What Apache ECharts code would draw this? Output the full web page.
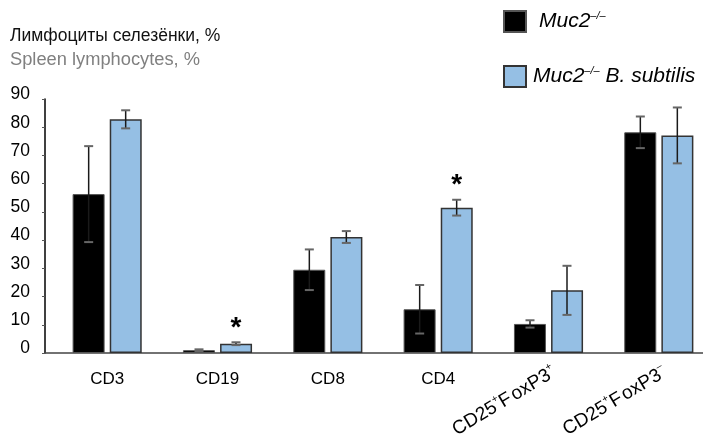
<!DOCTYPE html>
<html><head><meta charset="utf-8">
<script src="https://cdn.jsdelivr.net/npm/echarts@6/dist/echarts.min.js"></script>
<style>html,body{margin:0;padding:0;background:#fff}#c{width:703px;height:437px}</style>
</head><body><div id="c"></div>
<script>
const categories = ['CD3', 'CD19', 'CD8', 'CD4', 'CD25+FoxP3+', 'CD25+FoxP3-'];
const categoryLabels = ['CD3', 'CD19', 'CD8', 'CD4', '{n|CD25}{s|+}{n|F}{g|oxP3}{s|+}', '{n|CD25}{s|+}{n|F}{g|oxP3}{s|–}'];
const seriesNames = ['Muc2-/-', 'Muc2-/- B. subtilis'];
const muc2 = [56.3, 1.0, 29.5, 15.5, 10.3, 78.2];
const muc2Err = [17.0, 0.3, 7.2, 8.6, 1.3, 5.6];
const bsub = [82.8, 3.3, 41.1, 51.5, 22.2, 77.1];
const bsubErr = [3.2, 0.5, 2.1, 2.8, 8.7, 9.9];
const stars = ['', '*', '', '*', '', ''];
const yMin = 0, yMax = 90, yStep = 10;

const errData = [];
categories.forEach((c, i) => {
  errData.push([i, muc2[i], muc2Err[i], 0, '']);
  errData.push([i, bsub[i], bsubErr[i], 1, stars[i]]);
});

const FONT = 'Liberation Sans, Arial, sans-serif';
const chart = echarts.init(document.getElementById('c'));
chart.setOption({
  animation: false,
  textStyle: { fontFamily: FONT },
  title: [
    { text: 'Лимфоциты селезёнки, %', left: 10, top: 27, padding: 0, textStyle: { fontSize: 17.5, fontWeight: 'normal', color: '#111', fontFamily: FONT } },
    { text: 'Spleen lymphocytes, %', left: 10, top: 51, padding: 0, textStyle: { fontSize: 18.3, fontWeight: 'normal', color: '#808080', fontFamily: FONT } }
  ],
  legend: {
    orient: 'vertical', left: 503, top: 10, padding: 0, itemWidth: 22, itemHeight: 21, itemGap: 32,
    icon: 'rect',
    data: [
      { name: seriesNames[0] },
      { name: seriesNames[1] }
    ],
    formatter: function (name) {
      return name === seriesNames[0]
        ? '{sp1|}{n|Muc2}{s|–/–}'
        : '{sp2|}{n|Muc2}{s|–/–}{n| B. subtilis}';
    },
    textStyle: {
      fontFamily: FONT, fontSize: 21, fontStyle: 'italic', color: '#000',
      rich: {
        sp1: { width: 8 },
        sp2: { width: 2 },
        n: { fontSize: 21, fontStyle: 'italic', color: '#000', fontFamily: FONT },
        s: { fontSize: 11, fontStyle: 'italic', color: '#000', fontFamily: FONT, padding: [0, 0, 12, 0] }
      }
    }
  },
  grid: [
    { left: 52, width: 662, top: 99, bottom: 84, outerBoundsMode: 'none', containLabel: false },
    { left: 45, right: 0, top: 99, bottom: 84, outerBoundsMode: 'none', containLabel: false }
  ],
  xAxis: [
    {
      type: 'category', data: categories, gridIndex: 0, position: 'bottom', offset: 0,
      axisLine: { show: false }, axisTick: { show: false },
      axisLabel: {
        interval: 0, margin: 18, fontSize: 17, color: '#000', fontFamily: FONT,
        formatter: function (v, i) { return i < 4 ? categoryLabels[i] : ''; }
      }
    },
    {
      type: 'category', data: categories, gridIndex: 0, position: 'bottom', offset: 0,
      axisLine: { show: false }, axisTick: { show: false },
      axisLabel: {
        interval: 0, margin: 8, rotate: 31, verticalAlign: 'top', fontSize: 19, color: '#000', fontFamily: FONT,
        formatter: function (v, i) { return i >= 4 ? categoryLabels[i] : ''; },
        rich: {
          n: { fontSize: 19, color: '#000', fontFamily: FONT },
          g: { fontSize: 19, color: '#000', fontFamily: FONT, padding: [0, 0, 0, 2] },
          s: { fontSize: 10, color: '#000', fontFamily: FONT, padding: [0, 0, 13, 0] }
        }
      }
    },
    {
      type: 'value', gridIndex: 1, min: 0, max: 1,
      axisLine: { show: true, lineStyle: { color: '#444', width: 1.5 } },
      axisTick: { show: false }, axisLabel: { show: false }, splitLine: { show: false }
    }
  ],
  yAxis: [
    {
      type: 'value', gridIndex: 0, min: yMin, max: yMax, interval: yStep, offset: 7,
      axisLine: { show: true, lineStyle: { color: '#000', width: 1.5 } },
      axisTick: { show: true, length: 3, lineStyle: { color: '#555' } },
      axisLabel: { fontSize: 17.5, color: '#000', margin: 15, fontFamily: FONT, verticalAlign: 'bottom', lineHeight: 9 },
      splitLine: { show: false }
    },
    { type: 'value', gridIndex: 1, show: false, min: 0, max: 1 }
  ],
  series: [
    {
      name: seriesNames[0], type: 'bar', xAxisIndex: 0, yAxisIndex: 0, data: muc2,
      barWidth: 32, barGap: '16%',
      itemStyle: { color: '#000', borderColor: '#555', borderWidth: 1 }
    },
    {
      name: seriesNames[1], type: 'bar', xAxisIndex: 0, yAxisIndex: 0, data: bsub,
      barWidth: 32, barGap: '16%',
      itemStyle: { color: '#95bfe4', borderColor: '#333', borderWidth: 1.5 }
    },
    {
      type: 'custom', xAxisIndex: 0, yAxisIndex: 0, data: errData, z: 10,
      encode: { x: 0, y: 1 },
      renderItem: function (params, api) {
        const i = api.value(0), v = api.value(1), e = api.value(2), s = api.value(3);
        const star = errData[params.dataIndex][4];
        const cx = api.coord([i, v])[0] + (s ? 18.5 : -18.5);
        const hi = api.coord([i, v + e])[1];
        const lo = api.coord([i, Math.max(v - e, 0)])[1];
        const cap = 4.5;
        const children = [
          { type: 'line', shape: { x1: cx, y1: hi, x2: cx, y2: lo }, style: { stroke: '#1a1a1a', lineWidth: 1.5 } },
          { type: 'line', shape: { x1: cx - cap, y1: hi, x2: cx + cap, y2: hi }, style: { stroke: '#666', lineWidth: 2 } },
          { type: 'line', shape: { x1: cx - cap, y1: lo, x2: cx + cap, y2: lo }, style: { stroke: '#666', lineWidth: 2 } }
        ];
        if (star) {
          children.push({ type: 'text', style: { text: star, x: cx, y: hi, align: 'center', verticalAlign: 'bottom', fontSize: 28, fontWeight: 'bold', fill: '#000', fontFamily: FONT } });
        }
        return { type: 'group', children: children };
      }
    }
  ]
});
</script></body></html>
